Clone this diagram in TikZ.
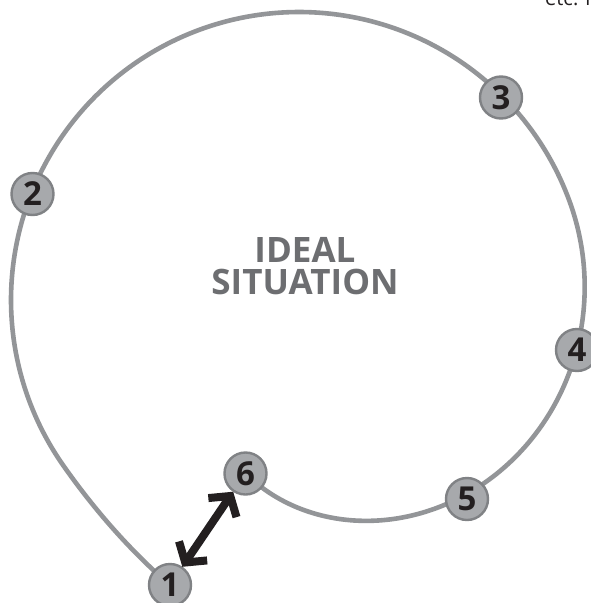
\documentclass[tikz,border=0pt]{standalone}
\usepackage{fontspec}
\setmainfont{Open Sans}
\usetikzlibrary{arrows.meta}
\definecolor{curvegray}{HTML}{939598}
\definecolor{nodefill}{HTML}{A7A9AC}
\definecolor{nodedraw}{HTML}{808285}
\definecolor{titlegray}{HTML}{6D6E71}
\definecolor{ink}{HTML}{231F20}
\tikzset{
  stepnode/.style={circle, draw=nodedraw, fill=nodefill, line width=2.4pt,
    minimum size=42pt, inner sep=0pt, outer sep=1pt,
    font=\fontsize{33}{33}\selectfont\bfseries, text=ink},
  spiral/.style={draw=curvegray, line width=4.6pt},
  twoway/.style={draw=ink, line width=8pt,
    {Straight Barb[length=14pt,width=34pt]}-{Straight Barb[length=14pt,width=34pt]}},
  title/.style={font=\fontsize{35}{32}\selectfont\bfseries, text=titlegray, align=center}
}
\begin{document}
\begin{tikzpicture}[x=1pt,y=-1pt,
  declare function={spr(\t)=288+(0.163*max(0,\t-215))^2-(0.0812*max(0,20-\t))^2;}]
\useasboundingbox (0,0) rectangle (590,603);
\fill[white] (0,0) rectangle (590,603);
\draw[spiral] plot[domain=245.6:-107.1, samples=240, smooth, variable=\t]
  ({299+spr(\t)*cos(\t)}, {300-spr(\t)*sin(\t)});
\node[stepnode] (n1) at (170,585) {1};
\node[stepnode] (n2) at (32.5,194) {2};
\node[stepnode] (n3) at (501,97.5) {3};
\node[stepnode] (n4) at (577,350) {4};
\node[stepnode] (n5) at (467,499) {5};
\node[stepnode] (n6) at (245.5,473.5) {6};
\draw[twoway] (n1) -- (n6);
\node[title] (t) at (305,266) {IDEAL\\SITUATION};
\node[anchor=base west, font=\fontsize{20}{20}\selectfont, text=ink, inner sep=0pt] (etc) at (545,5) {etc. I};
\end{tikzpicture}
\end{document}
